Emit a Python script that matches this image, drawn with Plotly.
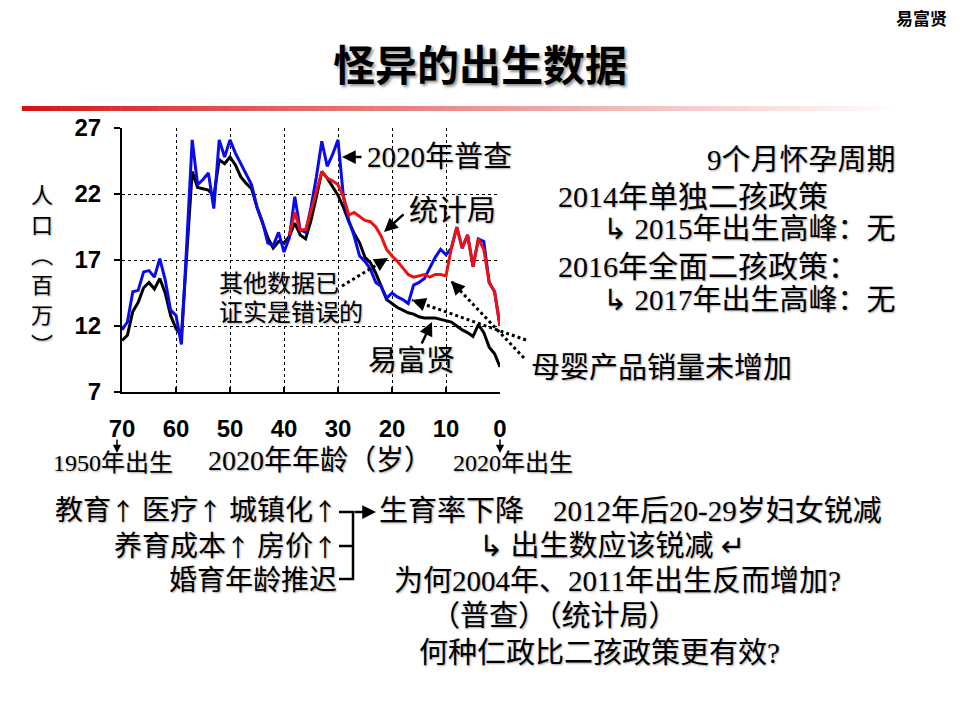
import plotly.graph_objects as go

# ---------------- data ----------------
ages = list(range(70, -1, -1))                       # 2020 age (years)
yi_fuxian = [10.9, 11.3, 13.1, 13.8, 14.9, 15.3, 14.8, 15.6, 14.5, 12.8,
             11.8, 11.3, 17.5, 23.7, 22.5, 22.4, 22.3, 21.8, 24.6, 24.3,
             24.8, 24.2, 23.3, 22.8, 22.4, 21.0, 19.8, 18.7, 17.9, 18.4,
             18.3, 18.8, 19.8, 18.9, 18.6, 20.0, 21.8, 23.7, 23.2, 22.6,
             21.9, 21.0, 19.9, 19.0, 18.3, 17.2, 16.8, 16.0, 15.0, 14.0,
             13.7, 13.4, 13.2, 13.0, 12.9, 12.7, 12.6, 12.6, 12.6, 12.5,
             12.4, 12.3, 12.0, 11.7, 11.5, 11.2, 12.1, 11.5, 10.4, 9.9, 8.9]
census_2020 = [11.7, 12.3, 14.6, 14.7, 16.1, 16.2, 15.7, 17.1, 15.5, 13.2,
               12.8, 10.6, 18.3, 26.1, 22.7, 23.1, 23.6, 20.9, 26.1, 24.8,
               26.1, 25.1, 24.3, 23.5, 22.7, 21.0, 19.9, 18.3, 18.1, 19.1,
               17.6, 18.7, 21.8, 19.3, 19.1, 21.0, 23.3, 26.0, 24.1, 25.0,
               26.1, 21.8, 20.0, 18.8, 17.3, 16.9, 16.3, 15.3, 15.0, 14.1,
               14.5, 14.2, 14.0, 13.7, 15.1, 15.3, 15.6, 16.4, 17.2, 17.8,
               17.4, 17.9, 19.5, 17.9, 18.9, 16.5, 18.6, 18.4, 15.3, 14.6, 12.0]
nbs_ages = list(range(39, -1, -1))
nbs = [18.9, 20.6, 19.3, 19.3, 20.7, 22.1, 23.7, 23.2, 23.0, 22.7,
       21.8, 20.4, 20.6, 20.3, 20.0, 19.9, 19.5, 18.8, 17.8, 17.3,
       16.9, 16.4, 15.9, 15.7, 15.8, 15.9, 15.7, 15.9, 15.9, 15.8,
       17.9, 19.5, 17.9, 18.9, 16.5, 18.6, 17.8, 15.3, 14.6, 12.0]
x_ticks = [70, 60, 50, 40, 30, 20, 10, 0]
y_ticks = [7, 12, 17, 22, 27]

# ---------------- layout helpers ----------------
L, R, T, B = 122, 500, 128, 392
W, H = 960, 720


def px(x):
    return (x - L) / (R - L)


def py(y):
    return (B - y) / (B - T)


SERIF = "'Liberation Serif', 'Noto Sans CJK SC', 'DejaVu Sans'"
CJK = "'Noto Sans CJK SC', 'DejaVu Sans'"
SH = "1px 1px 2px rgba(0,0,0,0.35)"
UP = '<span style="font-family:Noto Sans CJK SC;font-size:24px">↑</span>'

fig = go.Figure()
fig.add_trace(go.Scatter(x=ages, y=yi_fuxian, mode="lines",
                         line=dict(color="black", width=3), name="易富贤"))
fig.add_trace(go.Scatter(x=ages, y=census_2020, mode="lines",
                         line=dict(color="#0A0AEE", width=3), name="2020年普查"))
fig.add_trace(go.Scatter(x=nbs_ages, y=nbs, mode="lines",
                         line=dict(color="#EE1111", width=3), name="统计局"))

annotations = []
shapes = []


def text(t, x, y, size=30, xanchor="center", family=SERIF, bold=False, shadow=SH,
         height=None):
    a = dict(text=t, x=px(x), y=py(y), xref="paper", yref="paper",
             xanchor=xanchor, yanchor="middle", showarrow=False, borderpad=0,
             font=dict(family=family, size=size, color="black",
                       weight="bold" if bold else "normal", shadow=shadow))
    if height:
        a["height"] = height
    annotations.append(a)


def arrow(x0, y0, x1, y1, width=2.5, dotted=False):
    # tail (x0,y0) -> head (x1,y1), pixel positions on the page
    if dotted:
        shapes.append(dict(type="line", xref="paper", yref="paper",
                           x0=px(x0), y0=py(y0), x1=px(x1), y1=py(y1),
                           line=dict(color="black", width=3, dash="dot")))
        dx, dy = x0 - x1, y0 - y1
        n = (dx * dx + dy * dy) ** 0.5
        ax, ay = dx / n * 10, dy / n * 10
    else:
        ax, ay = x0 - x1, y0 - y1
    annotations.append(dict(text="", x=px(x1), y=py(y1), xref="paper", yref="paper",
                            ax=ax, ay=ay, showarrow=True, arrowhead=2,
                            arrowsize=1.1, arrowwidth=width, arrowcolor="black"))


def seg(x0, y0, x1, y1, width=2.5):
    shapes.append(dict(type="line", xref="paper", yref="paper",
                       x0=px(x0), y0=py(y0), x1=px(x1), y1=py(y1),
                       line=dict(color="black", width=width)))


# title and header
text("怪异的出生数据", 480, 62, size=42, family=CJK, bold=True,
     shadow="2px 2px 3px rgba(0,0,0,0.45)")
text("易富贤", 921, 18, size=17, family=CJK, bold=True, shadow="none")

# gradient bar under the title
n = 90
x_start, x_end = 22, 905
for i in range(n):
    t = i / (n - 1)
    r = int(212 + (255 - 212) * t ** 0.9)
    g = int(20 + (255 - 20) * t ** 0.9)
    b = int(20 + (255 - 20) * t ** 0.9)
    xa = x_start + (x_end - x_start) * i / n
    xb = x_start + (x_end - x_start) * (i + 1) / n + 0.5
    shapes.append(dict(type="rect", xref="paper", yref="paper",
                       x0=px(xa), x1=px(xb), y0=py(111), y1=py(106),
                       line=dict(width=0), fillcolor=f"rgb({r},{g},{b})"))

# y-axis title (vertical, one char per row)
for i, ch in enumerate(["人", "口", "︵", "百", "万", "︶"]):
    text(ch, 42, 193 + i * 30, size=22, family=CJK, height=28)

# x-axis extra labels
text("1950年出生", 113, 463, size=24)
text("2020年年龄（岁）", 320, 461, size=28)
text("2020年出生", 513, 463, size=24)
arrow(117, 438, 117, 453, width=1.5)
arrow(500, 438, 500, 453, width=1.5)

# chart annotations
text("2020年普查", 366, 157, size=29, xanchor="left")
arrow(363, 157, 342, 157)
text("统计局", 452, 211, size=29)
arrow(405, 213, 384, 232)
text("易富贤", 411, 361, size=29)
arrow(421, 345, 432, 322)
text("其他数据已", 218, 284, size=24, xanchor="left", height=28)
text("证实是错误的", 218, 313, size=24, xanchor="left", height=28)
arrow(342, 286, 388, 258, dotted=True)
text("母婴产品销量未增加", 530, 368, size=29, xanchor="left")
arrow(526, 340, 412, 300, dotted=True)
arrow(524, 358, 451, 281, dotted=True)

# right side texts
RH = 32
text("9个月怀孕周期", 897, 160, size=29, xanchor="right", height=RH)
text("2014年单独二孩政策", 557, 196, size=30, xanchor="left", height=RH)
text("↳ 2015年出生高峰：无", 897, 229, size=29, xanchor="right", height=RH)
text("2016年全面二孩政策：", 557, 266, size=30, xanchor="left", height=RH)
text("↳ 2017年出生高峰：无", 897, 300, size=29, xanchor="right", height=RH)

# bottom texts
BH = 33
text(f"教育{UP} 医疗{UP} 城镇化{UP}", 338, 509, size=28, xanchor="right", height=BH)
text(f"养育成本{UP} 房价{UP}", 338, 545, size=28, xanchor="right", height=BH)
text("婚育年龄推迟", 338, 580, size=28, xanchor="right", height=BH)
seg(339, 512, 354, 512)
seg(339, 546, 354, 546)
seg(339, 579, 354, 579)
seg(353, 511, 353, 580)
arrow(353, 512, 376, 512)
text("生育率下降　2012年后20-29岁妇女锐减", 378, 510, size=29, xanchor="left", height=BH)
text("↳ 出生数应该锐减 ↵", 478, 545, size=29, xanchor="left", height=BH)
text("为何2004年、2011年出生反而增加?", 393, 580, size=29, xanchor="left", height=BH)
text("（普查）（统计局）", 430, 615, size=29, xanchor="left", height=BH)
text("何种仁政比二孩政策更有效?", 418, 652, size=29, xanchor="left", height=BH)

axis_font = dict(family="'Liberation Sans', Arial", size=24, color="black", weight="bold")
fig.update_layout(
    width=W, height=H,
    margin=dict(l=L, r=W - R, t=T, b=H - B, pad=0),
    plot_bgcolor="white", paper_bgcolor="white",
    showlegend=False,
    xaxis=dict(range=[70, 0], tickvals=x_ticks, ticktext=[str(v) for v in x_ticks],
               showgrid=True, gridcolor="black", griddash="dot", gridwidth=1,
               showline=True, linecolor="black", linewidth=2,
               ticks="inside", ticklen=5, tickwidth=2, tickcolor="black",
               tickfont=axis_font, ticklabelstandoff=14, zeroline=False),
    yaxis=dict(range=[7, 27], tickvals=y_ticks, ticktext=[str(v) for v in y_ticks],
               showgrid=True, gridcolor="black", griddash="dot", gridwidth=1,
               showline=True, linecolor="black", linewidth=2,
               ticks="outside", ticklen=6, tickwidth=2, tickcolor="black",
               tickfont=axis_font, ticklabelstandoff=8, zeroline=False),
    annotations=annotations,
    shapes=shapes,
)

fig.write_html("out.html")
